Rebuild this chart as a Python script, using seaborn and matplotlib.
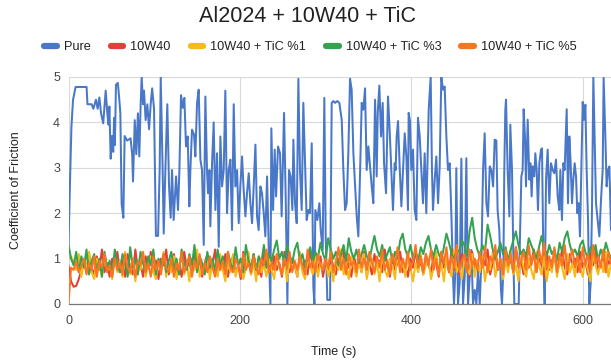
import numpy as np
import pandas as pd
import matplotlib
matplotlib.use("Agg")
import matplotlib.pyplot as plt
import seaborn as sns
from matplotlib.lines import Line2D

# ---------------- data ----------------
series_names = ["Pure", "10W40", "10W40 + TiC %1", "10W40 + TiC %3", "10W40 + TiC %5"]
x_ticks = [0, 200, 400, 600]
y_ticks = [0, 1, 2, 3, 4, 5]

pure_t = [0, 1.5, 3.4, 5.3, 8.3, 21.1, 22.1, 27, 29, 32, 34, 36, 38, 40.5, 43.4, 45.3, 46.7, 47.7, 49.2, 50.7,
          52.2, 53.2, 54.1, 55.4, 57.6, 59.3, 60.5, 62, 64, 65.5, 68.4, 72.4, 74.3, 75.3, 77.3, 79.1, 81, 82.6, 84.2, 85.4,
          86.9, 88.1, 90, 92, 94, 95.9, 97.6, 99.8, 102, 104.5, 106.4, 107.6, 109.9, 111.1, 113.1, 115.3, 117.3, 119.2,
          120.8, 122.7, 125.5, 127.8, 129.4, 131.3, 133.3, 135.2, 137.1, 139.1, 141, 142.2, 144.1, 146.5, 148, 150, 151.9,
          153.9, 155.8, 157.8, 159.7, 161.6, 162.8, 164.4, 165.5, 167.5, 169.4, 171.4, 173.3, 175.3, 177.2, 179.2, 181.1,
          183, 185, 186.9, 188.9, 190.8, 192.8, 194.7, 196.7, 198.6, 200.5, 202.5, 204.4, 206.4, 208.3, 210.3, 212.2,
          214.2, 216.1, 218.1, 220, 221.9, 223.9, 225.8, 227.8, 229.7, 231.7, 233.6, 235.6, 236.7, 238.7, 240.6, 242.2, 244.5,
          246.8, 248.7, 251.5, 253.4, 255.4, 257.3, 259.2, 261.2, 262.4, 264.3, 266.3, 268.2, 270.1, 272.1, 274, 276, 277.9,
          279.9, 281.8, 283.8, 285.7, 286.9, 288, 290.4, 292.7, 294.3, 296.6, 298.5, 300.1, 302, 305.2, 307.1, 309, 311,
          313.7, 316, 318.8, 320.7, 322.7, 324.6, 326.5, 328.5, 330.4, 332.4, 334.3, 336.3, 338.2, 340.2, 342.1, 344, 346,
          347.9, 349.9, 351.8, 353.8, 355.7, 357.7, 359.6, 360.8, 362.7, 364.7, 366.6, 368.2, 370.5,
          372.8, 374.7, 376.7, 378.6, 380.6, 381.7, 382.9, 384.5, 386.4, 388.4, 390.3, 392.3, 394.2, 396.1, 396.9, 398.5,
          400, 402, 403.9, 405.9, 407.8, 409.8, 411.7, 413.6, 415.6, 417.5, 418.7, 420.3, 422.6, 424.1, 425.3, 427.3, 429.2,
          431.2, 433.1, 435, 437, 438.9, 440.9, 442.8, 444.8, 446.7, 448.7, 449.8, 451.4, 452.5, 454.5, 456.4, 458.4, 460.3,
          462.3, 464.2, 466.2, 468.1, 470.1, 472, 474, 475.9, 477.8, 479.8, 481.7, 483.7, 485.6, 487.6, 489.5, 491.5, 493.4,
          495.4, 497.3,
          499.2, 500.7, 502.7, 504.6, 505.8, 507.4, 508.5, 509.7, 510.5, 512.4, 514.4, 515.5, 517.5, 519, 520.2, 522.9,
          525.3, 526.8, 528.4, 529.9, 531.1, 532.6, 533.8, 535.8, 537.7, 538.9, 540.4, 541.6, 543.5, 544.7, 546.3, 547.8,
          549.4, 551.3, 552.5, 554, 555.6, 557.2, 559.1, 561, 563, 564.9, 566.9, 568.8, 570.8, 572.7, 573.9, 575.8, 577.4,
          578.9, 581.3, 582.8, 584.4, 585.9, 587.5, 589, 590.6, 592.2, 593.7, 595.3, 596.8, 598.4, 600, 601.5, 603.1, 604.6,
          606.2, 607.7, 609.3, 610.8, 612.4, 613.9, 615.5, 617.4, 619.4, 621.3, 623.3, 624.4, 626.4, 627.9, 629.5, 631.1, 633]

pure_v = [1.3, 2.5, 3.9, 4.5, 4.78, 4.78, 4.4, 4.4, 4.3, 4.5, 4.3, 4.55, 4.2, 3.98, 4.7, 4.2, 3.95, 4.35, 3.2, 3.7,
          3.35, 4.1, 3.5, 4.83, 4.87, 4.5, 4.2, 2.2, 1.9, 3.7, 3.6, 3.65, 3.3, 2.7, 4.05, 3.3, 4.2, 3.25, 4.4, 5.0,
          4.4, 4.7, 4.05, 4.4, 3.85, 4.4, 4.75, 4.3, 1.5, 1.5, 3.0, 5.0, 2.9, 1.55, 3.0, 4.4, 2.6, 1.9,
          2.95, 1.85, 2.81, 2.07, 2.95, 4.6, 4.32, 4.54, 3.47, 3.69, 2.15, 2.95, 3.84, 3.73, 3.25, 4.43, 4.72,
          3.18, 2.95, 1.3, 4.57, 2.95, 2.44, 2.95, 1.71, 3.1, 4.0, 2.07, 3.32, 1.26, 3.69, 2.59, 2.95,
          4.7, 2.0, 2.95, 3.18, 1.63, 4.4, 2.59, 2.95, 1.78, 2.59, 3.25, 2.51, 1.93, 2.44, 2.88, 2.22,
          1.78, 2.59, 3.51, 1.93, 1.63, 2.59, 2.44, 2.0, 1.49, 2.81, 1.26, 0.0, 3.87, 2.07, 3.4, 2.37, 3.47,
          3.32, 1.93, 4.21, 2.37, 0.0, 2.95, 2.81, 2.07, 3.62, 2.22, 1.78, 4.96, 2.95, 2.07, 4.43, 3.1, 1.85,
          2.07, 2.0, 3.54, 0.38, 0.0, 2.07, 1.85, 2.22, 1.63, 1.19, 4.54, 1.49, 0.09, 0.09, 4.43, 4.47, 4.43,
          4.47, 4.43, 4.06, 2.95, 2.07, 2.22, 3.32, 4.96, 4.72, 3.32, 2.66, 1.93, 1.49, 2.88, 4.43, 4.28, 4.75,
          2.95, 3.47, 3.03, 2.59, 2.22, 4.5, 2.81, 4.21, 4.81, 3.69, 4.43, 3.1, 2.44,
          4.57, 3.84, 2.95, 2.07, 3.1, 2.95, 3.69, 4.03, 3.03, 2.15, 2.95, 3.76, 3.25, 2.07, 4.21, 4.03,
          2.95, 3.4, 2.07, 1.85, 4.1, 3.69, 2.95, 2.22, 3.32, 2.0, 2.95, 4.28, 5.0, 2.95, 2.07, 2.74, 3.25,
          2.22, 3.03, 5.0, 4.72, 4.79, 3.69, 2.95, 3.1, 2.0, 0.6, 0.0, 0.75, 2.99, 0.0, 0.46, 3.2, 0.0,
          0.6, 3.21, 0.0, 0.6, 1.19, 0.0, 0.31, 0.0, 0.75, 0.0, 0.9, 2.95, 3.76, 2.22, 1.93, 3.03, 2.95,
          2.59, 3.62,
          3.6, 2.07, 1.63, 0.31, 0.0, 0.75, 2.95, 4.28, 4.5, 2.95, 1.93, 3.95, 2.95, 1.12, 0.0, 0.0,
          0.0, 1.49, 2.81, 2.95, 4.29, 3.69, 2.59, 4.06, 2.74, 3.1, 2.37, 3.03, 2.81, 3.32, 2.95, 2.07,
          3.1, 3.4, 3.43, 1.12, 0.0, 2.74, 3.4, 2.22, 3.1, 2.95, 2.88, 3.18, 2.37, 2.07, 2.95, 1.85, 3.1,
          2.95, 4.29, 2.22, 3.69, 3.1, 2.22, 2.74, 3.1, 2.81, 2.0, 2.22, 1.49, 2.95, 4.45, 4.06, 4.39, 2.95,
          1.85, 0.0, 0.46, 2.07, 5.0, 3.69, 2.22, 1.85, 1.49, 2.28, 2.95, 4.98, 3.69, 2.59, 2.95, 3.03, 1.63]

# sampling times of the four lubricated tests (one reading every 3 s)
time_lub = np.arange(0, 634, 3)

oil_v = [0.85, 0.5, 0.38, 0.4, 0.55, 0.75, 0.95, 0.7, 1.1, 0.8, 0.65, 1.05, 0.75, 1.2, 0.7, 0.9, 0.6, 1.0, 0.85, 1.15,
         0.7, 0.95, 0.6, 1.1, 0.8, 0.65, 1.2, 0.75, 0.9, 0.6, 1.05, 0.8, 1.15, 0.7, 0.95, 0.55, 1.0, 0.85, 1.2, 0.65,
         0.9, 1.1, 0.7, 0.85, 0.6, 1.15, 0.8, 0.95, 0.65, 1.2, 0.75, 1.0, 0.6, 0.9, 1.1, 0.7, 0.85, 1.2, 0.65, 0.95,
         0.75, 1.1, 0.6, 0.9, 1.05, 0.7, 0.85, 0.55, 1.15, 0.8, 0.95, 0.65, 1.1, 0.75, 0.9, 0.6, 1.2, 0.8, 0.95, 0.7,
         1.05, 0.75, 0.9, 0.6, 1.15, 0.8, 0.7, 1.0, 0.85, 0.6, 1.1, 0.75, 0.95, 0.65, 1.2, 0.8, 0.9, 0.7, 1.05, 0.6,
         0.95, 0.75, 1.1, 0.8, 0.65, 1.0, 0.85, 1.2, 0.7, 0.9, 0.6, 1.05, 0.8, 0.95, 0.7, 1.15, 0.75, 0.9, 0.65, 1.1,
         0.8, 0.95, 0.7, 1.2, 0.85, 0.6, 1.05, 0.75, 0.9, 1.15, 0.7, 0.85, 0.6, 1.0, 0.8, 1.2, 0.75, 0.95, 0.65, 1.1,
         0.85, 0.7, 1.05, 0.9, 0.6, 1.15, 0.8, 0.95, 0.7, 1.2, 0.75, 0.9, 0.65, 1.1, 0.85, 1.0, 0.6, 1.15, 0.8, 0.95,
         0.7, 1.05, 0.85, 1.2, 0.65, 0.9, 1.1, 0.75, 0.95, 0.6, 1.15, 0.8, 1.0, 0.7, 1.25, 0.85, 0.95, 0.65, 1.1, 0.8,
         0.9, 1.2, 0.7, 1.0, 0.85, 0.6, 1.15, 0.75, 0.95, 1.05, 0.7, 0.9, 1.2, 0.8, 0.65, 1.1, 0.85, 1.0, 0.7, 1.15,
         0.8, 0.95, 0.65, 1.1, 0.85, 1.2, 0.75, 0.9, 1.05, 0.7, 0.95, 0.85]

tic1_v = [1.0, 1.05, 0.9, 0.75, 1.1, 0.6, 0.95, 0.8, 1.15, 0.7, 0.55, 1.0, 0.85, 0.6, 1.1, 0.75, 0.9, 0.55, 1.05, 0.7,
          0.95, 0.6, 1.15, 0.8, 0.65, 1.0, 0.5, 0.9, 0.75, 1.1, 0.6, 0.85, 1.05, 0.7, 0.55, 0.95, 0.8, 1.15, 0.6, 0.9,
          0.7, 1.05, 0.55, 0.85, 1.1, 0.65, 0.9, 0.5, 1.0, 0.75, 1.2, 0.6, 0.85, 0.7, 1.05, 0.55, 0.95, 0.8, 0.6, 1.1,
          0.75, 0.5, 0.95, 0.7, 1.1, 0.6, 0.85, 1.0, 0.55, 0.8, 1.15, 0.65, 0.9, 0.5, 1.05, 0.7, 0.85, 0.6, 1.0, 0.75,
          0.55, 1.1, 0.8, 0.65, 0.95, 0.5, 1.05, 0.75, 0.9, 0.6, 1.15, 0.7, 0.55, 1.0, 0.85, 0.65, 1.1, 0.6, 0.9, 0.75,
          1.05, 0.6, 0.85, 0.5, 1.0, 0.75, 1.2, 0.65, 0.9, 0.55, 1.05, 0.8, 0.6, 0.95, 0.7, 1.1, 0.55, 0.85, 1.0, 0.65,
          0.9, 0.5, 1.1, 0.75, 0.6, 1.0, 0.85, 0.55, 1.15, 0.7, 0.95, 0.6, 1.05, 0.8, 0.5, 0.9, 0.7, 1.1, 0.65, 0.85,
          1.0, 0.55, 0.8, 1.15, 0.65, 0.9, 0.5, 1.05, 0.75, 0.6, 1.2, 0.7, 0.85, 0.55, 1.0, 0.8, 0.65, 1.1, 0.6, 0.95,
          0.7, 1.05, 0.5, 0.9, 0.75, 1.15, 0.6, 0.85, 1.0, 0.55, 0.95, 0.7, 1.2, 0.65, 0.85, 0.5, 1.1, 0.8, 0.6, 1.0,
          0.75, 0.55, 1.15, 0.85, 0.65, 1.05, 0.5, 0.9, 0.7, 1.2, 0.6, 0.95, 0.8, 0.55, 1.1, 0.7, 0.9, 0.6, 1.05, 0.8,
          0.6, 1.0, 0.75, 0.5, 1.1, 0.85, 0.65, 0.95, 0.7, 1.15, 0.6, 0.9]

tic3_v = [1.3, 1.0, 0.85, 1.15, 0.7, 1.05, 0.8, 1.2, 0.65, 0.95, 1.1, 0.7, 1.0, 0.6, 1.15, 0.8, 0.95, 0.65, 1.2, 0.85,
          0.7, 1.1, 0.9, 0.6, 1.25, 0.8, 1.0, 0.65, 1.15, 0.9, 0.7, 1.05, 0.85, 1.2, 0.65, 1.0, 0.8, 1.1, 0.7, 0.95,
          1.15, 0.75, 1.0, 0.65, 1.2, 0.9, 0.75, 1.1, 0.85, 1.3, 0.7, 1.05, 0.9, 0.65, 1.15, 0.8, 1.0, 0.7, 1.2, 0.85,
          1.05, 0.7, 1.15, 0.9, 0.75, 1.25, 0.85, 1.0, 0.7, 1.3, 0.95, 0.8, 1.1, 0.75, 1.05, 0.9, 1.3, 0.8, 1.1, 0.95,
          1.2, 1.4, 1.0, 1.15, 0.85, 1.3, 1.05, 0.9, 1.2, 1.35, 0.95, 1.1, 0.8, 1.05, 1.25, 0.9, 1.15, 1.0, 1.35, 1.1,
          0.95, 1.45, 1.2, 1.0, 1.15, 0.85, 1.1, 1.3, 0.95, 1.45, 1.15, 1.0, 1.2, 0.9, 1.1, 1.3, 1.05, 0.95, 1.25, 1.5,
          1.2, 1.05, 1.3, 0.95, 1.1, 1.25, 0.9, 1.15, 1.0, 1.4, 1.55, 1.2, 1.05, 1.3, 1.0, 1.15, 0.95, 1.25, 1.1, 1.35,
          1.5, 1.2, 1.05, 1.3, 1.1, 0.95, 1.25, 1.55, 1.35, 1.1, 1.0, 1.2, 1.15, 1.4, 1.3, 1.05, 1.6, 1.9, 1.45, 1.2,
          1.05, 1.3, 1.15, 1.75, 1.5, 1.2, 1.0, 1.15, 1.35, 1.1, 1.25, 0.95, 1.2, 1.4, 1.6, 1.3, 1.1, 1.2, 1.05, 1.45,
          1.3, 1.15, 1.0, 1.25, 1.5, 1.2, 1.05, 1.3, 1.1, 1.2, 0.95, 1.35, 1.15, 1.45, 1.6, 1.3, 1.1, 1.2, 1.05, 1.3,
          1.4, 1.15, 1.0, 1.25, 1.1, 1.3, 0.95, 1.2, 1.05, 1.35, 1.15, 1.0]

tic5_v = [0.0, 0.8, 0.75, 0.95, 0.7, 0.85, 1.0, 0.65, 0.9, 0.75, 1.05, 0.6, 0.95, 0.8, 1.1, 0.7, 0.85, 0.6, 1.0, 0.75,
          0.9, 0.65, 1.1, 0.8, 0.7, 1.0, 0.6, 0.95, 0.85, 1.15, 0.7, 0.9, 0.6, 1.05, 0.75, 0.95, 0.65, 1.1, 0.8, 0.7,
          1.0, 0.6, 0.9, 0.75, 1.15, 0.7, 0.85, 1.05, 0.6, 0.95, 0.8, 1.1, 0.65, 0.9, 0.7, 1.05, 0.8, 0.6, 1.0, 0.75,
          0.95, 0.65, 1.15, 0.8, 0.7, 1.0, 0.85, 0.6, 1.1, 0.75, 0.9, 0.7, 1.05, 0.8, 0.65, 1.0, 0.85, 1.2, 0.7, 0.9,
          0.75, 1.1, 0.85, 0.65, 1.0, 0.8, 1.15, 0.7, 0.95, 0.75, 1.05, 0.85, 0.65, 1.2, 0.8, 0.95, 0.7, 1.1, 0.85, 0.75,
          1.0, 0.8, 1.15, 0.7, 0.9, 1.25, 0.75, 1.0, 0.65, 1.1, 0.85, 0.95, 0.7, 1.2, 0.8, 1.0, 0.75, 1.15, 0.9, 0.7,
          1.05, 0.8, 1.2, 0.75, 0.95, 0.65, 1.1, 0.85, 1.25, 0.7, 1.0, 0.8, 1.15, 0.75, 0.95, 1.3, 0.8, 1.05, 0.7, 1.1,
          0.85, 1.2, 0.75, 1.0, 0.65, 1.15, 0.9, 1.25, 0.7, 1.05, 0.8, 1.3, 0.75, 0.95, 1.1, 0.7, 1.2, 0.85, 1.0, 0.75,
          1.15, 0.8, 1.25, 0.7, 1.05, 0.9, 1.3, 0.75, 1.0, 0.65, 1.2, 0.85, 1.1, 0.7, 1.25, 0.8, 0.95, 1.15, 0.75, 1.3,
          0.85, 1.1, 0.7, 1.2, 0.9, 1.35, 0.75, 1.05, 0.8, 1.25, 0.7, 1.1, 0.85, 1.3, 0.75, 1.0, 1.2, 0.8, 1.05, 0.7,
          1.25, 0.85, 1.1, 0.75, 1.3, 0.9, 1.05, 0.8, 1.2, 0.7, 1.15, 0.9]

colors = ["#4a78c9", "#e23f3a", "#f7bb17", "#34a24f", "#fb7422"]

# ---------------- figure ----------------
sns.set_theme(style="white")
plt.rcParams['font.family'] = ['Liberation Sans', 'DejaVu Sans']

W, H = 611, 362
fig = plt.figure(figsize=(W / 100, H / 100), dpi=100)
ax = fig.add_axes([68.5 / W, 1 - 304 / H, (W - 68.5) / W, 227 / H])

sns.lineplot(x=pure_t, y=pure_v, ax=ax, color=colors[0], lw=1.45, estimator=None, sort=False)
for vals, c in zip([oil_v, tic1_v, tic3_v, tic5_v], colors[1:]):
    sns.lineplot(x=time_lub, y=vals, ax=ax, color=c, lw=1.45, estimator=None, sort=False)

ax.set_xlim(0, 633)
ax.set_ylim(0, 5)
ax.set_xticks(x_ticks)
ax.set_yticks(y_ticks)
ax.set_xticklabels([str(v) for v in x_ticks])
ax.set_yticklabels([str(v) for v in y_ticks])
ax.grid(True, color="#d9d9d9", lw=0.8)
ax.set_axisbelow(True)
for s in ["top", "right", "left"]:
    ax.spines[s].set_visible(False)
ax.spines["bottom"].set_color("#777777")
ax.spines["bottom"].set_linewidth(0.9)
ax.tick_params(axis="both", length=0, labelsize=9, colors="#444444")
ax.tick_params(axis="y", pad=6)
ax.tick_params(axis="x", pad=8)
ax.set_xlabel("")
ax.set_ylabel("")

fig.text(307.5 / W, 1 - 16 / H, "Al2024 + 10W40 + TiC", ha="center", va="center",
         fontsize=15.5, color="#222222")
fig.text(334 / W, 1 - 352 / H, "Time (s)", ha="center", va="center", fontsize=9, color="#222222")
fig.text(16 / W, 1 - 190.5 / H, "Coefficient of Friction", ha="center", va="center",
         rotation=90, fontsize=9, color="#222222")

handles = [Line2D([0], [0], color=c, lw=4.5) for c in colors]
fig.legend(handles, series_names, loc="center", bbox_to_anchor=(310.5 / W, 1 - 47 / H), ncol=5,
           frameon=False, fontsize=9.2, handlelength=1.0, handletextpad=0.55, columnspacing=1.55,
           labelcolor="#222222", borderaxespad=0, borderpad=0)

fig.savefig("out.png", dpi=100)
